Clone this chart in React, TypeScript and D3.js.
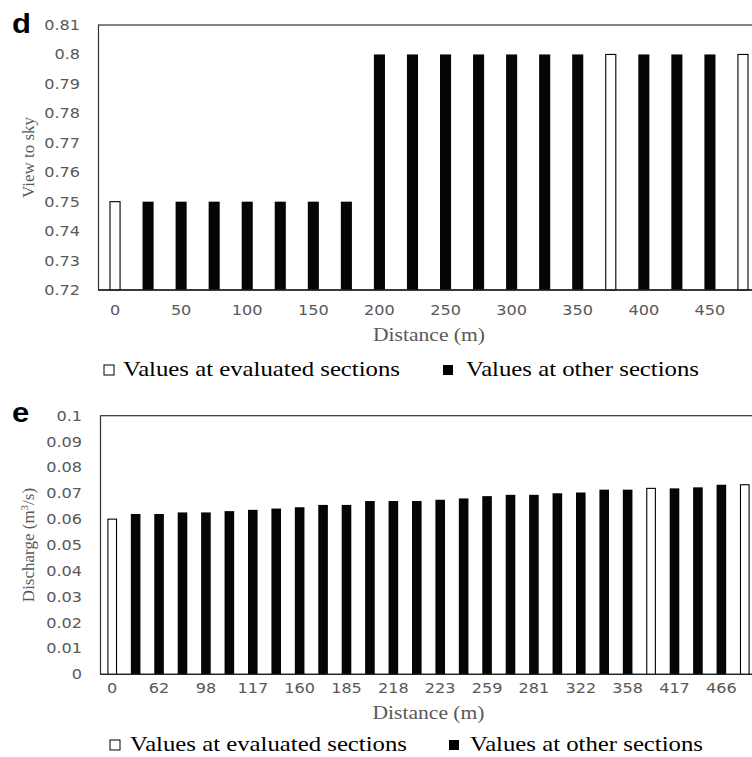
import React from "react";
import * as d3 from "d3";

// ---- Panel d: View to sky ----
const dCategories = [0, 25, 50, 75, 100, 125, 150, 175, 200, 225, 250, 275, 300, 325, 350, 375, 400, 425, 450, 475];
const dValues = [0.75, 0.75, 0.75, 0.75, 0.75, 0.75, 0.75, 0.75, 0.8, 0.8, 0.8, 0.8, 0.8, 0.8, 0.8, 0.8, 0.8, 0.8, 0.8, 0.8];
const dEvaluated = [0, 15, 19];
const dYTicks = [0.72, 0.73, 0.74, 0.75, 0.76, 0.77, 0.78, 0.79, 0.8, 0.81];

// ---- Panel e: Discharge ----
const eTickLabels = ["0", "62", "98", "117", "160", "185", "218", "223", "259", "281", "322", "358", "417", "466"];
const eValues = [
  0.06, 0.062, 0.062, 0.0626, 0.0626, 0.0631, 0.0636, 0.0641, 0.0646, 0.0655,
  0.0655, 0.067, 0.067, 0.067, 0.0675, 0.068, 0.0689, 0.0694, 0.0694, 0.07,
  0.0703, 0.0714, 0.0714, 0.0719, 0.0719, 0.0723, 0.0733, 0.0733,
];
const eEvaluated = [0, 23, 27];
const eYTicks = [0, 0.01, 0.02, 0.03, 0.04, 0.05, 0.06, 0.07, 0.08, 0.09, 0.1];

const legendLabels = ["Values at evaluated sections", "Values at other sections"];

const TICK_FONT = "'DejaVu Sans', Verdana, sans-serif";
const SERIF = "'Liberation Serif', 'Times New Roman', serif";
const GRAY = "#595959";
const SX = 1.15;

function Panel(props: {
  letter: string;
  letterY: number;
  n: number;
  values: number[];
  evaluated: number[];
  xLabel: (i: number) => string | null;
  yDomain: [number, number];
  yTicks: number[];
  yFmt: (v: number) => string;
  xRange: [number, number];
  yRange: [number, number];
  barRatio: number;
  yLabelRight: number;
  yTitle: React.ReactNode;
  xTickY: number;
  xTitleY: number;
  legendY: number;
  legendX: [number, number, number, number];
}) {
  const p = props;
  const pad = 1 - p.barRatio;
  const x = d3
    .scaleBand<number>()
    .domain(d3.range(p.n))
    .range(p.xRange)
    .paddingInner(pad)
    .paddingOuter(pad / 2);
  const y = d3.scaleLinear().domain(p.yDomain).range(p.yRange);
  const [top, bottom] = [p.yRange[1], p.yRange[0]];
  const left = p.xRange[0];
  const right = p.xRange[1];
  const midX = (left + right) / 2;
  const midY = (top + bottom) / 2;
  const [lx1, lt1, lx2, lt2] = p.legendX;
  return (
    <g>
      <text
        transform={`translate(12,${p.letterY}) scale(${SX},1)`}
        fontFamily="'Liberation Sans', Arial, sans-serif"
        fontWeight="bold"
        fontSize={27}
        fill="#000"
      >
        {p.letter}
      </text>
      {/* frame */}
      <rect x={left} y={top} width={right - left} height={bottom - top} fill="#fff" stroke="#333" strokeWidth={1.2} />
      {/* bars */}
      {p.values.map((v, i) => {
        const ev = p.evaluated.includes(i);
        const bx = x(i)!;
        const by = y(v);
        return ev ? (
          <rect key={i} x={bx + 0.5} y={by} width={x.bandwidth() - 1} height={bottom - by} fill="#fff" stroke="#000" strokeWidth={1.1} />
        ) : (
          <rect key={i} x={bx} y={by} width={x.bandwidth()} height={bottom - by} fill="#050505" />
        );
      })}
      <line x1={left} x2={right} y1={bottom} y2={bottom} stroke="#222" strokeWidth={1.3} />
      {/* y tick labels */}
      {p.yTicks.map((t) => (
        <text
          key={t}
          transform={`translate(${p.yLabelRight},${y(t)}) scale(${SX},1)`}
          dy="0.36em"
          textAnchor="end"
          fontFamily={TICK_FONT}
          fontSize={14}
          fill={GRAY}
        >
          {p.yFmt(t)}
        </text>
      ))}
      {/* x tick labels */}
      {d3.range(p.n).map((i) => {
        const lab = p.xLabel(i);
        if (lab === null) return null;
        return (
          <text
            key={i}
            transform={`translate(${x(i)! + x.bandwidth() / 2},${p.xTickY}) scale(${SX},1)`}
            dy="0.36em"
            textAnchor="middle"
            fontFamily={TICK_FONT}
            fontSize={14}
            fill={GRAY}
          >
            {lab}
          </text>
        );
      })}
      {/* axis titles */}
      <text
        x={midX}
        y={p.xTitleY}
        dy="0.36em"
        textAnchor="middle"
        fontFamily={SERIF}
        fontSize={18}
        fill={GRAY}
        textLength={112}
        lengthAdjust="spacingAndGlyphs"
      >
        Distance (m)
      </text>
      <text
        transform={`translate(34,${midY}) rotate(-90)`}
        textAnchor="middle"
        fontFamily={SERIF}
        fontSize={17}
        fill={GRAY}
      >
        {p.yTitle}
      </text>
      {/* legend */}
      <rect x={lx1} y={p.legendY - 4} width={10} height={10} fill="#fff" stroke="#000" strokeWidth={1} />
      <text
        x={lt1}
        y={p.legendY}
        dy="0.35em"
        fontFamily={SERIF}
        fontSize={21}
        fill="#000"
        textLength={277}
        lengthAdjust="spacingAndGlyphs"
      >
        {legendLabels[0]}
      </text>
      <rect x={lx2} y={p.legendY - 4} width={10} height={10} fill="#000" />
      <text
        x={lt2}
        y={p.legendY}
        dy="0.35em"
        fontFamily={SERIF}
        fontSize={21}
        fill="#000"
        textLength={233}
        lengthAdjust="spacingAndGlyphs"
      >
        {legendLabels[1]}
      </text>
    </g>
  );
}

export default function App() {
  return (
    <svg
      width={752}
      height={757}
      style={{ position: "absolute", left: 0, top: 0, background: "#fff" }}
    >
      <rect x={0} y={0} width={752} height={757} fill="#fff" />
      <Panel
        letter="d"
        letterY={33}
        n={dCategories.length}
        values={dValues}
        evaluated={dEvaluated}
        xLabel={(i) => (i % 2 === 0 && i < 19 ? String(dCategories[i]) : null)}
        yDomain={[0.72, 0.81]}
        yTicks={dYTicks}
        yFmt={(v) => d3.format("~g")(+v.toFixed(2))}
        xRange={[98.5, 759.5]}
        yRange={[290, 25]}
        barRatio={0.335}
        yLabelRight={80}
        yTitle="View to sky"
        xTickY={310}
        xTitleY={335}
        legendY={369}
        legendX={[104, 123, 443, 466]}
      />
      <Panel
        letter="e"
        letterY={422}
        n={eValues.length}
        values={eValues}
        evaluated={eEvaluated}
        xLabel={(i) => (i % 2 === 0 ? eTickLabels[i / 2] : null)}
        yDomain={[0, 0.1]}
        yTicks={eYTicks}
        yFmt={(v) => d3.format("~g")(+v.toFixed(2))}
        xRange={[100.5, 756.5]}
        yRange={[674.3, 415.7]}
        barRatio={0.41}
        yLabelRight={82}
        yTitle={
          <>
            Discharge (m
            <tspan fontSize={11} dy={-6}>3</tspan>
            <tspan dy={6}>/s)</tspan>
          </>
        }
        xTickY={688}
        xTitleY={713}
        legendY={744}
        legendX={[110, 130, 449, 470]}
      />
    </svg>
  );
}
